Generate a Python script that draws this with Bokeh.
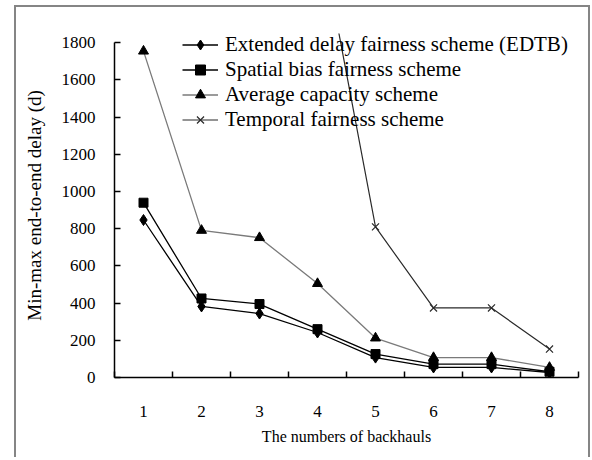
import math
from bokeh.plotting import figure
from bokeh.models import FixedTicker, Legend, LegendItem, Range1d
from bokeh.embed import file_html
from bokeh.resources import INLINE

backhauls = [1, 2, 3, 4, 5, 6, 7, 8]
edtb = [847, 382, 344, 242, 107, 54, 54, 27]
spatial = [940, 425, 395, 260, 126, 72, 72, 31]
average = [1755, 791, 752, 505, 212, 107, 107, 54]
temporal = [math.nan, math.nan, math.nan, 2460, 810, 374, 374, 153]
y_ticks = [0, 200, 400, 600, 800, 1000, 1200, 1400, 1600, 1800]
x_minor = [0.5, 1.5, 2.5, 3.5, 4.5, 5.5, 6.5, 7.5, 8.5]

FONT = "Liberation Serif"

p = figure(width=572, height=452, output_backend="svg", toolbar_location=None,
           x_range=Range1d(0.5, 8.5), y_range=Range1d(0, 1850),
           min_border_left=98, min_border_right=10, min_border_top=26,
           min_border_bottom=82)
# thin grey frame round the picture (left, top and right sides)
p.styles = {"margin-left": "16px", "margin-top": "7px",
            "box-shadow": "-2px -2px 0 0 #858585, 2px -2px 0 0 #858585"}
p.outline_line_color = None
p.grid.visible = False
p.background_fill_color = "white"
p.border_fill_color = "white"

# x axis
xa = p.xaxis[0]
xa.ticker = FixedTicker(ticks=backhauls, minor_ticks=x_minor)
xa.major_tick_in = 0
xa.major_tick_out = 0
xa.minor_tick_in = 6
xa.minor_tick_out = 0
xa.minor_tick_line_color = "black"
xa.minor_tick_line_width = 1.5
xa.axis_line_color = "black"
xa.axis_line_width = 1.5
xa.major_label_standoff = 28
xa.major_label_text_font = FONT
xa.major_label_text_font_size = "17px"
xa.major_label_text_color = "black"
xa.axis_label = "The numbers of backhauls"
xa.axis_label_text_font = FONT
xa.axis_label_text_font_size = "16px"
xa.axis_label_text_font_style = "normal"
xa.axis_label_text_color = "black"
xa.axis_label_standoff = 8

# y axis
ya = p.yaxis[0]
ya.ticker = FixedTicker(ticks=y_ticks, minor_ticks=[])
ya.bounds = (0, 1800)
ya.major_tick_in = 6
ya.major_tick_out = 0
ya.major_tick_line_color = "black"
ya.major_tick_line_width = 1.5
ya.axis_line_color = "black"
ya.axis_line_width = 1.5
ya.major_label_standoff = 19
ya.major_label_text_font = FONT
ya.major_label_text_font_size = "17px"
ya.major_label_text_color = "black"
ya.axis_label = "Min-max end-to-end delay (d)"
ya.axis_label_text_font = FONT
ya.axis_label_text_font_size = "19px"
ya.axis_label_text_font_style = "normal"
ya.axis_label_text_color = "black"
ya.axis_label_standoff = 14

r1l = p.line(backhauls, edtb, line_color="black", line_width=1.3)
r1m = p.scatter(backhauls, edtb, marker="diamond", size=11, fill_color="black", line_color="black")
r2l = p.line(backhauls, spatial, line_color="black", line_width=1.3)
r2m = p.scatter(backhauls, spatial, marker="square", size=9, fill_color="black", line_color="black")
r3l = p.line(backhauls, average, line_color="#7a7a7a", line_width=1.3)
r3m = p.scatter(backhauls, average, marker="triangle", size=10, fill_color="black", line_color="black")
r4l = p.line(backhauls, temporal, line_color="#2a2a2a", line_width=1.2)
r4m = p.scatter(backhauls, temporal, marker="x", size=10, line_color="#2a2a2a", line_width=1.2)

legend = Legend(items=[
    LegendItem(label="Extended delay fairness scheme (EDTB)", renderers=[r1l, r1m]),
    LegendItem(label="Spatial bias fairness scheme", renderers=[r2l, r2m]),
    LegendItem(label="Average capacity scheme", renderers=[r3l, r3m]),
    LegendItem(label="Temporal fairness scheme", renderers=[r4l, r4m]),
], location=(68, 245))
legend.border_line_color = None
legend.background_fill_alpha = 0
legend.padding = 0
legend.spacing = 0
legend.margin = 0
legend.glyph_width = 36
legend.glyph_height = 25
legend.label_height = 25
legend.label_standoff = 7
legend.label_text_font = FONT
legend.label_text_font_size = "21px"
legend.label_text_color = "black"
legend.label_text_baseline = "middle"
p.add_layout(legend)

open("out.html", "w").write(file_html(p, INLINE))
